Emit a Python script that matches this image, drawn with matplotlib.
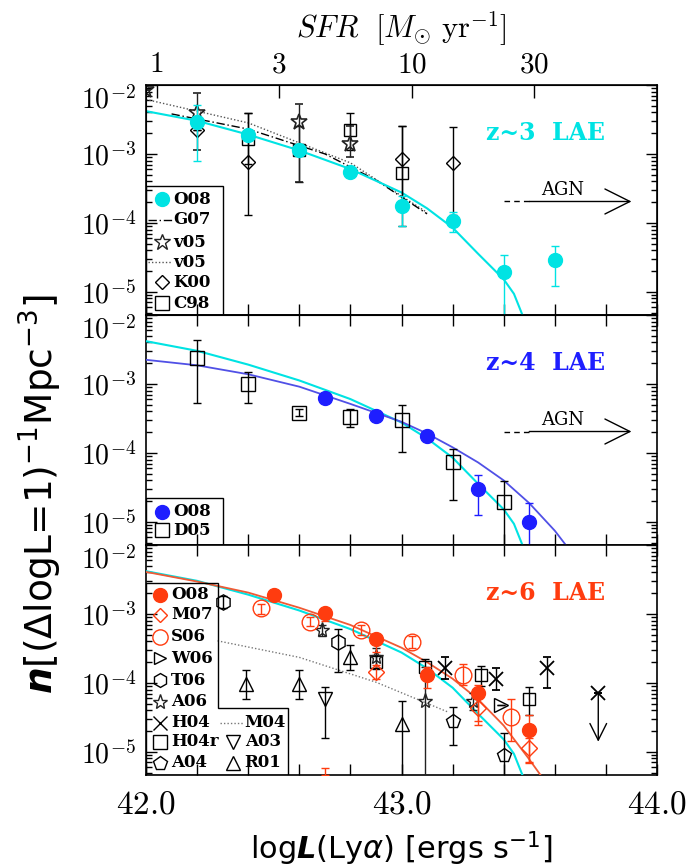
import numpy as np
import matplotlib.pyplot as plt
from matplotlib.patches import Polygon
from matplotlib.transforms import ScaledTranslation
from matplotlib.ticker import FixedLocator, FixedFormatter, LogLocator, NullFormatter

plt.rcParams['mathtext.fontset'] = 'cm'
plt.rcParams['font.family'] = 'DejaVu Serif'

CYAN = '#00e3e3'
BLUE = '#1e1eff'
BLUE_LINE = '#5050e6'
RED = '#ff3c0f'
RED_LINE = '#f05a35'

# best-fit curves (log n)
fit_x_z3 = [42.0, 42.2, 42.4, 42.6, 42.8, 43.0, 43.1, 43.2, 43.3, 43.4, 43.44, 43.48]
fit_logn_z3 = [-2.38, -2.52, -2.72, -2.95, -3.22, -3.56, -3.79, -4.07, -4.45, -4.82, -5.03, -5.40]
fit_x_z4 = [42.0, 42.2, 42.4, 42.6, 42.8, 43.0, 43.1, 43.2, 43.3, 43.4, 43.5, 43.6, 43.66]
fit_logn_z4 = [-2.65, -2.73, -2.86, -3.04, -3.29, -3.55, -3.72, -3.92, -4.14, -4.40, -4.73, -5.13, -5.42]
fit_x_z6 = [42.0, 42.2, 42.4, 42.6, 42.8, 43.0, 43.1, 43.2, 43.3, 43.4, 43.5, 43.56]
fit_logn_z6 = [-2.39, -2.53, -2.69, -2.91, -3.16, -3.49, -3.70, -3.94, -4.24, -4.62, -5.11, -5.42]

# z~3 panel: other LFs
g07_x = [42.1, 42.4, 42.7, 42.9, 43.1]
g07_logn = [-2.42, -2.64, -3.00, -3.38, -3.87]
v05line_x = [42.0, 42.4, 42.8, 43.1]
v05line_logn = [-2.21, -2.55, -3.13, -3.85]

# z~3 points: x, log n, log lower, log upper
o08_z3_x = [42.2, 42.4, 42.6, 42.8, 43.0, 43.2, 43.4, 43.6]
o08_z3_logn = [-2.53, -2.72, -2.95, -3.26, -3.75, -3.98, -4.72, -4.54]
o08_z3_lo = [-3.10, -2.77, -3.00, -3.31, -4.04, -4.13, -7.0, -4.91]
o08_z3_hi = [-2.29, -2.67, -2.90, -3.21, -3.61, -3.85, -4.47, -4.34]

v05_x = [42.0, 42.2, 42.6, 42.8]
v05_logn = [-2.07, -2.41, -2.54, -2.86]
v05_lo = [-2.07, -2.95, -3.41, -3.05]
v05_hi = [-2.07, -2.11, -2.28, -2.60]

k00_x = [42.2, 42.4, 43.0, 43.2]
k00_logn = [-2.66, -3.12, -3.08, -3.13]
k00_lo = [-2.66, -3.88, -4.04, -3.89]
k00_hi = [-2.66, -2.40, -2.60, -2.61]

c98_x = [42.4, 42.6, 42.8, 43.0]
c98_logn = [-2.79, -2.95, -2.66, -3.27]
c98_lo = [-3.15, -3.41, -2.95, -3.82]
c98_hi = [-2.40, -2.60, -2.40, -2.60]

# z~4 points
o08_z4_x = [42.7, 42.9, 43.1, 43.3, 43.5]
o08_z4_logn = [-3.21, -3.47, -3.76, -4.53, -5.01]
o08_z4_lo = [-3.24, -3.50, -3.79, -4.90, -7.0]
o08_z4_hi = [-3.18, -3.44, -3.73, -4.32, -4.73]

d05_x = [42.2, 42.4, 42.6, 42.8, 43.0, 43.2, 43.4]
d05_logn = [-2.62, -3.00, -3.42, -3.48, -3.53, -4.14, -4.72]
d05_lo = [-3.28, -3.28, -3.47, -3.63, -3.99, -4.69, -7.0]
d05_hi = [-2.36, -2.83, -3.37, -3.37, -3.30, -3.95, -4.41]

# z~6 points
o08_z6_x = [42.5, 42.7, 42.9, 43.1, 43.3, 43.5]
o08_z6_logn = [-2.72, -2.99, -3.36, -3.89, -4.14, -4.68]
o08_z6_lo = [-2.80, -3.10, -3.55, -4.08, -4.61, -5.16]
o08_z6_hi = [-2.66, -2.93, -3.30, -3.77, -4.03, -4.46]

m07_x = [42.7, 42.9, 43.3, 43.5]
m07_logn = [-5.28, -3.84, -4.37, -4.95]
m07_lo = [-5.33, -3.95, -4.55, -5.15]
m07_hi = [-5.23, -3.74, -4.20, -4.80]

s06_x = [42.45, 42.64, 42.84, 43.04, 43.24, 43.43]
s06_logn = [-2.92, -3.11, -3.23, -3.41, -3.89, -4.49]
s06_lo = [-3.00, -3.18, -3.30, -3.50, -4.03, -4.85]
s06_hi = [-2.85, -3.04, -3.16, -3.32, -3.72, -4.23]

w06_x = [43.39]
w06_logn = [-4.32]

t06_x = [42.30, 42.75]
t06_logn = [-2.83, -3.41]
t06_lo = [-2.92, -3.84]
t06_hi = [-2.74, -3.22]

a06_x = [42.69, 42.9, 43.09, 43.28]
a06_logn = [-3.24, -3.62, -4.27, -4.27]
a06_lo = [-3.32, -3.78, -7.0, -4.40]
a06_hi = [-3.16, -3.50, -3.77, -4.15]

h04_x = [43.17, 43.37, 43.57, 43.77]
h04_logn = [-3.79, -3.94, -3.79, -4.15]
h04_lo = [-3.95, -4.10, -4.08, -4.15]
h04_hi = [-3.63, -3.79, -3.63, -4.15]

h04r_x = [42.9, 43.09, 43.31, 43.5]
h04r_logn = [-3.70, -3.77, -3.89, -4.23]
h04r_lo = [-3.80, -3.90, -4.05, -4.46]
h04r_hi = [-3.60, -3.65, -3.75, -4.06]

a04_x = [43.2, 43.4]
a04_logn = [-4.56, -5.04]
a04_lo = [-4.90, -7.0]
a04_hi = [-4.35, -4.73]

m04_x = [42.28, 42.6, 42.9, 43.18]
m04_logn = [-3.39, -3.63, -3.99, -4.42]

a03_x = [42.7]
a03_logn = [-4.23]
a03_lo = [-4.80]
a03_hi = [-4.06]

r01_x = [42.39, 42.6, 42.8, 43.0]
r01_logn = [-4.01, -4.01, -3.62, -4.59]
r01_lo = [-4.23, -4.23, -3.82, -7.0]
r01_hi = [-3.81, -3.81, -3.45, -4.27]

sfr_ticks = [1, 3, 10, 30]


def setup(ax, top_ticks=True):
    ax.set_yscale('log')
    ax.set_xlim(42, 44)
    ax.set_ylim(4.6e-6, 1e-2)
    ax.yaxis.set_major_locator(FixedLocator([1e-5, 1e-4, 1e-3, 1e-2]))
    ax.yaxis.set_major_formatter(FixedFormatter([r'$10^{-5}$', r'$10^{-4}$', r'$10^{-3}$', r'$10^{-2}$']))
    ax.yaxis.set_minor_locator(LogLocator(base=10, subs=range(2, 10)))
    ax.yaxis.set_minor_formatter(NullFormatter())
    xt = [42.0, 42.2, 42.4, 42.6, 42.8, 43.0, 43.2, 43.4, 43.6, 43.8, 44.0]
    ax.xaxis.set_major_locator(FixedLocator(xt))
    ax.xaxis.set_major_formatter(FixedFormatter(['$%.1f$' % v if abs(v - round(v)) < 1e-6 else '' for v in xt]))
    ax.tick_params(which='both', direction='in', top=top_ticks, right=True, width=1)
    ax.tick_params(which='major', length=8, labelsize=20, pad=7)
    ax.tick_params(axis='x', which='major', labelsize=24, pad=10)
    ax.tick_params(which='minor', length=4)
    for s in ax.spines.values():
        s.set_linewidth(1.2)


def pts(ax, x, logn, lo, hi, marker, color, mfc, ms, z=4, mew=1.0):
    y = 10 ** np.array(logn)
    yerr = [y - 10 ** np.array(lo), 10 ** np.array(hi) - y]
    ax.errorbar(x, y, yerr=yerr, fmt=marker, ms=ms, color=color, mfc=mfc, mec=color,
                ecolor=color, elinewidth=1, capsize=3, capthick=1, mew=mew, zorder=z)


def curve(ax, x, logn, color, ls='-', lw=1.3, z=3):
    ax.plot(x, 10 ** np.array(logn), color=color, ls=ls, lw=lw, zorder=z)


def agn(ax):
    ax.plot([43.40, 43.50], [2.04e-4, 2.04e-4], color='k', lw=1, ls=(0, (4, 3)))
    ax.annotate('', xy=(43.90, 2.04e-4), xytext=(43.50, 2.04e-4),
                arrowprops=dict(arrowstyle='->, head_length=0.9, head_width=0.45', color='k', lw=1,
                                mutation_scale=20, shrinkA=0, shrinkB=0))
    ax.text(43.63, 3.0e-4, 'AGN', fontsize=13, ha='center', va='center')


def entry(ax, xf, yf, label, marker=None, color='k', mfc='none', ms=9, ls=None):
    if marker:
        ax.plot([xf], [yf], marker=marker, color=color, mfc=mfc, mec=color, ms=ms, mew=1,
                transform=ax.transAxes, clip_on=False, zorder=7)
    if ls:
        ax.plot([xf - 0.027, xf + 0.02], [yf, yf], ls=ls, color=color, lw=1,
                transform=ax.transAxes, clip_on=False, zorder=7)
    ax.text(xf + 0.022, yf, label, transform=ax.transAxes, fontsize=12, fontweight='bold',
            ha='left', va='center', zorder=7)


fig = plt.figure(figsize=(6.93, 8.68), dpi=100)
L, W, H = 0.2107, 0.7374, 0.265
ax1 = fig.add_axes([L, 0.6371, W, H])
ax2 = fig.add_axes([L, 0.3721, W, H])
ax3 = fig.add_axes([L, 0.1071, W, H])
setup(ax1, top_ticks=False)
setup(ax2)
setup(ax3)
ax1.tick_params(axis='x', labelbottom=False)
ax2.tick_params(axis='x', labelbottom=False)

# ---------- z~3 ----------
curve(ax1, v05line_x, v05line_logn, '#555555', ls=(0, (1, 1.5)), lw=1.0)
curve(ax1, g07_x, g07_logn, 'k', ls=(0, (6, 2, 1, 2)), lw=1.0)
curve(ax1, fit_x_z3, fit_logn_z3, CYAN, lw=1.5)
pts(ax1, k00_x, k00_logn, k00_lo, k00_hi, 'D', 'k', 'none', 7)
pts(ax1, c98_x, c98_logn, c98_lo, c98_hi, 's', 'k', 'none', 9)
pts(ax1, v05_x, v05_logn, v05_lo, v05_hi, '*', '#222222', 'none', 12, mew=1.2)
pts(ax1, o08_z3_x, o08_z3_logn, o08_z3_lo, o08_z3_hi, 'o', CYAN, CYAN, 10, z=5)
agn(ax1)
ax1.text(0.781, 0.79, 'z~3  LAE', transform=ax1.transAxes, color=CYAN, fontsize=17,
         fontweight='bold', ha='center', va='center')
ax1.add_patch(plt.Rectangle((0, 0), 0.151, 0.561, transform=ax1.transAxes, fill=False,
                            edgecolor='k', lw=1, zorder=6))
entry(ax1, 0.031, 0.504, 'O08', 'o', CYAN, CYAN, 10)
entry(ax1, 0.031, 0.413, 'G07', ls=(0, (6, 2, 1, 2)))
entry(ax1, 0.031, 0.317, 'v05', '*', '#222222', 'none', 12)
entry(ax1, 0.031, 0.230, 'v05', ls=(0, (1, 1.5)), color='#555555')
entry(ax1, 0.031, 0.143, 'K00', 'D', ms=7)
entry(ax1, 0.031, 0.052, 'C98', 's', ms=10)

top = ax1.twiny()
top.set_xlim(42, 44)
top.set_xticks(np.log10(1.1e42 * np.array(sfr_ticks)))
top.set_xticklabels(['$%d$' % s for s in sfr_ticks])
top.tick_params(direction='in', length=9, width=1, labelsize=21, pad=5)
top.set_xlabel(r'$SFR\ \ [M_{\odot}\ \mathrm{yr}^{-1}]$', fontsize=22, labelpad=9)

# ---------- z~4 ----------
curve(ax2, fit_x_z3, fit_logn_z3, CYAN, lw=1.5)
curve(ax2, fit_x_z4, fit_logn_z4, BLUE_LINE, lw=1.3)
pts(ax2, d05_x, d05_logn, d05_lo, d05_hi, 's', 'k', 'none', 10)
pts(ax2, o08_z4_x, o08_z4_logn, o08_z4_lo, o08_z4_hi, 'o', BLUE, BLUE, 10, z=5)
agn(ax2)
ax2.text(0.781, 0.79, 'z~4  LAE', transform=ax2.transAxes, color=BLUE, fontsize=17,
         fontweight='bold', ha='center', va='center')
ax2.add_patch(plt.Rectangle((0, 0), 0.151, 0.204, transform=ax2.transAxes, fill=False,
                            edgecolor='k', lw=1, zorder=6))
entry(ax2, 0.031, 0.145, 'O08', 'o', BLUE, BLUE, 10)
entry(ax2, 0.031, 0.065, 'D05', 's', ms=10)

# ---------- z~6 ----------
curve(ax3, m04_x, m04_logn, '#777777', ls=(0, (1, 1.5)), lw=1.0)
curve(ax3, fit_x_z3, fit_logn_z3, CYAN, lw=1.5)
curve(ax3, fit_x_z6, fit_logn_z6, RED_LINE, lw=1.3)
pts(ax3, r01_x, r01_logn, r01_lo, r01_hi, '^', 'k', 'none', 10)
pts(ax3, a03_x, a03_logn, a03_lo, a03_hi, 'v', 'k', 'none', 10)
pts(ax3, a04_x, a04_logn, a04_lo, a04_hi, 'p', 'k', 'none', 10)
pts(ax3, h04r_x, h04r_logn, h04r_lo, h04r_hi, 's', 'k', 'none', 9)
pts(ax3, h04_x, h04_logn, h04_lo, h04_hi, 'x', 'k', 'none', 10, mew=1.3)
pts(ax3, a06_x, a06_logn, a06_lo, a06_hi, '*', '#222222', 'none', 11)
pts(ax3, t06_x, t06_logn, t06_lo, t06_hi, 'h', 'k', 'none', 11)
pts(ax3, w06_x, w06_logn, w06_logn, w06_logn, '>', 'k', 'none', 10)
pts(ax3, s06_x, s06_logn, s06_lo, s06_hi, 'o', RED, 'none', 12)
pts(ax3, m07_x[1:], m07_logn[1:], m07_lo[1:], m07_hi[1:], 'D', RED, 'none', 8)
pts(ax3, m07_x[:1], m07_logn[:1], m07_lo[:1], m07_hi[:1], 'none', RED, 'none', 0)
pts(ax3, o08_z6_x, o08_z6_logn, o08_z6_lo, o08_z6_hi, 'o', RED, RED, 10, z=5)
ax3.annotate('', xy=(h04_x[-1], 1.4e-5), xytext=(h04_x[-1], 10 ** h04_logn[-1]),
             arrowprops=dict(arrowstyle='->, head_length=0.6, head_width=0.3', color='k', lw=1,
                             mutation_scale=20, shrinkA=0, shrinkB=0))
ax3.text(0.781, 0.79, 'z~6  LAE', transform=ax3.transAxes, color=RED, fontsize=17,
         fontweight='bold', ha='center', va='center')
ax3.add_patch(Polygon([[0, 0], [0, 0.833], [0.1415, 0.833], [0.1415, 0.29], [0.2785, 0.29],
                       [0.2785, 0]], closed=True, transform=ax3.transAxes, fill=False,
                      edgecolor='k', lw=1, zorder=6))
entry(ax3, 0.027, 0.783, 'O08', 'o', RED, RED, 10)
entry(ax3, 0.027, 0.696, 'M07', 'D', RED, ms=7)
entry(ax3, 0.027, 0.601, 'S06', 'o', RED, ms=11)
entry(ax3, 0.027, 0.507, 'W06', '>', ms=9)
entry(ax3, 0.027, 0.413, 'T06', 'h', ms=10)
entry(ax3, 0.027, 0.319, 'A06', '*', '#222222', ms=11)
entry(ax3, 0.027, 0.228, 'H04', 'x', ms=10)
entry(ax3, 0.027, 0.145, 'H04r', 's', ms=10)
entry(ax3, 0.027, 0.053, 'A04', 'p', ms=10)
entry(ax3, 0.171, 0.228, 'M04', ls=(0, (1, 1.5)), color='#777777')
entry(ax3, 0.171, 0.145, 'A03', 'v', ms=10)
entry(ax3, 0.171, 0.053, 'R01', '^', ms=10)

ax3.set_xlabel(r'log$\mathbfit{L}$(Ly$\alpha$) [ergs s$^{-1}$]', fontsize=22, family='DejaVu Sans',
               math_fontfamily='dejavusans', labelpad=6)
fig.text(0.058, 0.431, r'$\mathbfit{n}$[($\Delta$logL=1)$^{-1}$Mpc$^{-3}$]', rotation=90,
         fontsize=27, family='DejaVu Sans', math_fontfamily='dejavusans', ha='center', va='center')

# the 10^-2 labels sit a little below their tick, as in the original
shift = ScaledTranslation(0, -9 / 72, fig.dpi_scale_trans)
for ax in (ax1, ax2, ax3):
    tk = ax.yaxis.get_major_ticks()[3]
    tk.label1.set_transform(tk.label1.get_transform() + shift)

fig.savefig('out.png', dpi=100)
